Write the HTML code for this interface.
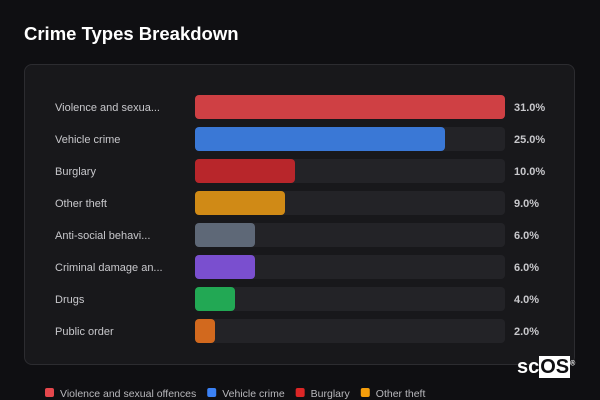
<!DOCTYPE html>
<html><head><meta charset="utf-8"><style>
body{margin:0;width:600px;height:400px;background:#0f0f12;font-family:"Liberation Sans",sans-serif;overflow:hidden;position:relative}
.t{position:absolute;left:24px;top:23px;color:#fff;font-weight:bold;font-size:18.5px}
.p{position:absolute;left:24px;top:64px;width:551px;height:301px;border:1px solid #2c2c30;border-radius:8px;background:#18181b;box-sizing:border-box}
</style></head><body>
<div class="t">Crime Types Breakdown</div>
<div class="p"></div>
<svg id="s" width="600" height="400" style="position:absolute;left:0;top:0"></svg>
<div style="position:absolute;left:517px;top:356px;color:#fff;font-weight:bold;font-size:20px">sc<span style="background:#fff;color:#0f0f12;padding:0 1px">OS</span><sup style="font-size:7px">®</sup></div>
<script>
const categories=["Violence and sexual offences","Vehicle crime","Burglary","Other theft","Anti-social behaviour","Criminal damage and arson","Drugs","Public order"];
const labels=["Violence and sexua...","Vehicle crime","Burglary","Other theft","Anti-social behavi...","Criminal damage an...","Drugs","Public order"];
const values=[31,25,10,9,6,6,4,2];
const colors=["#cf4044","#3a78d6","#b8262b","#d08a16","#5e6877","#7a4fcf","#22a854","#d2691e"];
const legendColors=["#e5474c","#3b82f6","#dc2626","#f59e0b"];
const s=document.getElementById('s');const NS="http://www.w3.org/2000/svg";
const max=Math.max(...values);
const x0=195,W=310,y0=95,step=32,h=24;
const xs=v=>v/max*W;
function mk(t,a){const e=document.createElementNS(NS,t);for(const k in a)e.setAttribute(k,a[k]);s.appendChild(e);return e;}
values.forEach((v,i)=>{
 const y=y0+i*step;
 const tr=mk('rect',{x:x0,y:y,width:W,height:h,rx:4,fill:'#232327'});
 
 
 const b=mk('rect',{x:x0,y:y,width:xs(v),height:h,rx:4,fill:colors[i]});
 
 
 const l=mk('text',{x:55,y:y+16,fill:'#c8c8cc','font-size':11});l.textContent=labels[i];
 
 
 const vt=mk('text',{x:514,y:y+16,fill:'#c8c8cc','font-size':11,'font-weight':'bold'});vt.textContent=v.toFixed(1)+'%';
 
 
});
let lx=45;
legendColors.forEach((c,i)=>{
 const r=mk('rect',{x:lx,y:388,width:9,height:9,rx:2,fill:c});
 
 
 const t=mk('text',{x:lx+15,y:397,fill:'#b8b8bc','font-size':10.5});t.textContent=categories[i];
 
 
 lx+=15+t.getComputedTextLength()+11;
});
</script>
</body></html>
